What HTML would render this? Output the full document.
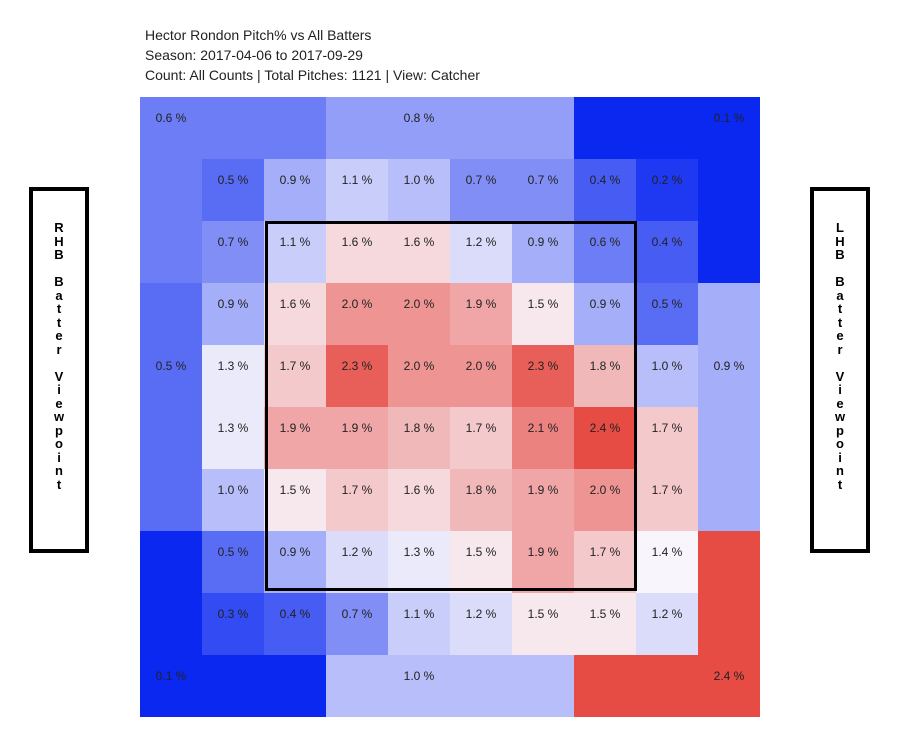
<!DOCTYPE html>
<html><head><meta charset="utf-8"><style>
body{margin:0;background:#fff;width:900px;height:743px;overflow:hidden;font-family:"Liberation Sans",sans-serif;position:relative}
.h{position:absolute;left:145px;font-size:14px;color:#222}
.c{position:absolute;width:62px;height:62px;font-size:12px;color:#222;text-align:center;line-height:14px;box-sizing:border-box;padding-top:14px}
.side{position:absolute;top:187px;width:60px;height:366px;border:4px solid #000;background:#fff;font-weight:bold;font-size:13px;text-align:center;line-height:13.5px;padding-top:30px;box-sizing:border-box}
#sz{position:absolute;left:265px;top:221px;width:372px;height:370px;border:3px solid #000;box-sizing:border-box}
</style></head><body>
<div class="h" style="top:27px">Hector Rondon Pitch% vs All Batters</div>
<div class="h" style="top:47px">Season: 2017-04-06 to 2017-09-29</div>
<div class="h" style="top:67px">Count: All Counts | Total Pitches: 1121 | View: Catcher</div>
<div class="side" style="left:29px">R<br>H<br>B<br><br>B<br>a<br>t<br>t<br>e<br>r<br><br>V<br>i<br>e<br>w<br>p<br>o<br>i<br>n<br>t</div>
<div class="side" style="left:810px">L<br>H<br>B<br><br>B<br>a<br>t<br>t<br>e<br>r<br><br>V<br>i<br>e<br>w<br>p<br>o<br>i<br>n<br>t</div>
<div id="g"></div>
<div id="sz"></div>
<script>
var inner=[[.5,.9,1.1,1.0,.7,.7,.4,.2],[.7,1.1,1.6,1.6,1.2,.9,.6,.4],[.9,1.6,2.0,2.0,1.9,1.5,.9,.5],[1.3,1.7,2.3,2.0,2.0,2.3,1.8,1.0],[1.3,1.9,1.9,1.8,1.7,2.1,2.4,1.7],[1.0,1.5,1.7,1.6,1.8,1.9,2.0,1.7],[.5,.9,1.2,1.3,1.5,1.9,1.7,1.4],[.3,.4,.7,1.1,1.2,1.5,1.5,1.2]];
function col(v){var lo=[10,40,240],mid=[248,246,252],hi=[230,75,68],m=1.4,a,b,t;
if(v<m){t=(m-v)/(m-0.1);a=mid;b=lo}else{t=(v-m)/(2.4-m);a=mid;b=hi}
t=Math.pow(Math.min(1,t),1.1);return 'rgb('+a.map(function(x,i){return Math.round(x+(b[i]-x)*t)}).join(',')+')'}
function zone(r,c){
if(r>=1&&r<=8&&c>=1&&c<=8)return null;
if(r==0&&c<=2||c==0&&r<=2)return 'TL';
if(r==0&&c>=3&&c<=6)return 'TM';
if(r==0&&c>=7||c==9&&r<=2)return 'TR';
if(c==0&&r>=3&&r<=6)return 'ML';
if(c==9&&r>=3&&r<=6)return 'MR';
if(r==9&&c<=2||c==0&&r>=7)return 'BL';
if(r==9&&c>=3&&c<=6)return 'BM';
return 'BR';}
var zv={TL:.6,TM:.8,TR:.1,ML:.5,MR:.9,BL:.1,BM:1.0,BR:2.4};
var lab={'0,0':1,'0,4':1,'0,9':1,'4,0':1,'4,9':1,'9,0':1,'9,4':1,'9,9':1};
var h='';
for(var r=0;r<10;r++)for(var c=0;c<10;c++){
var z=zone(r,c),v=z?zv[z]:inner[r-1][c-1],t='';
if(!z||lab[r+','+c])t=v.toFixed(1)+' %';
h+='<div class="c" style="left:'+(140+c*62)+'px;top:'+(97+r*62)+'px;background:'+col(v)+'">'+t+'</div>';}
document.getElementById('g').innerHTML=h;
</script>
</body></html>
